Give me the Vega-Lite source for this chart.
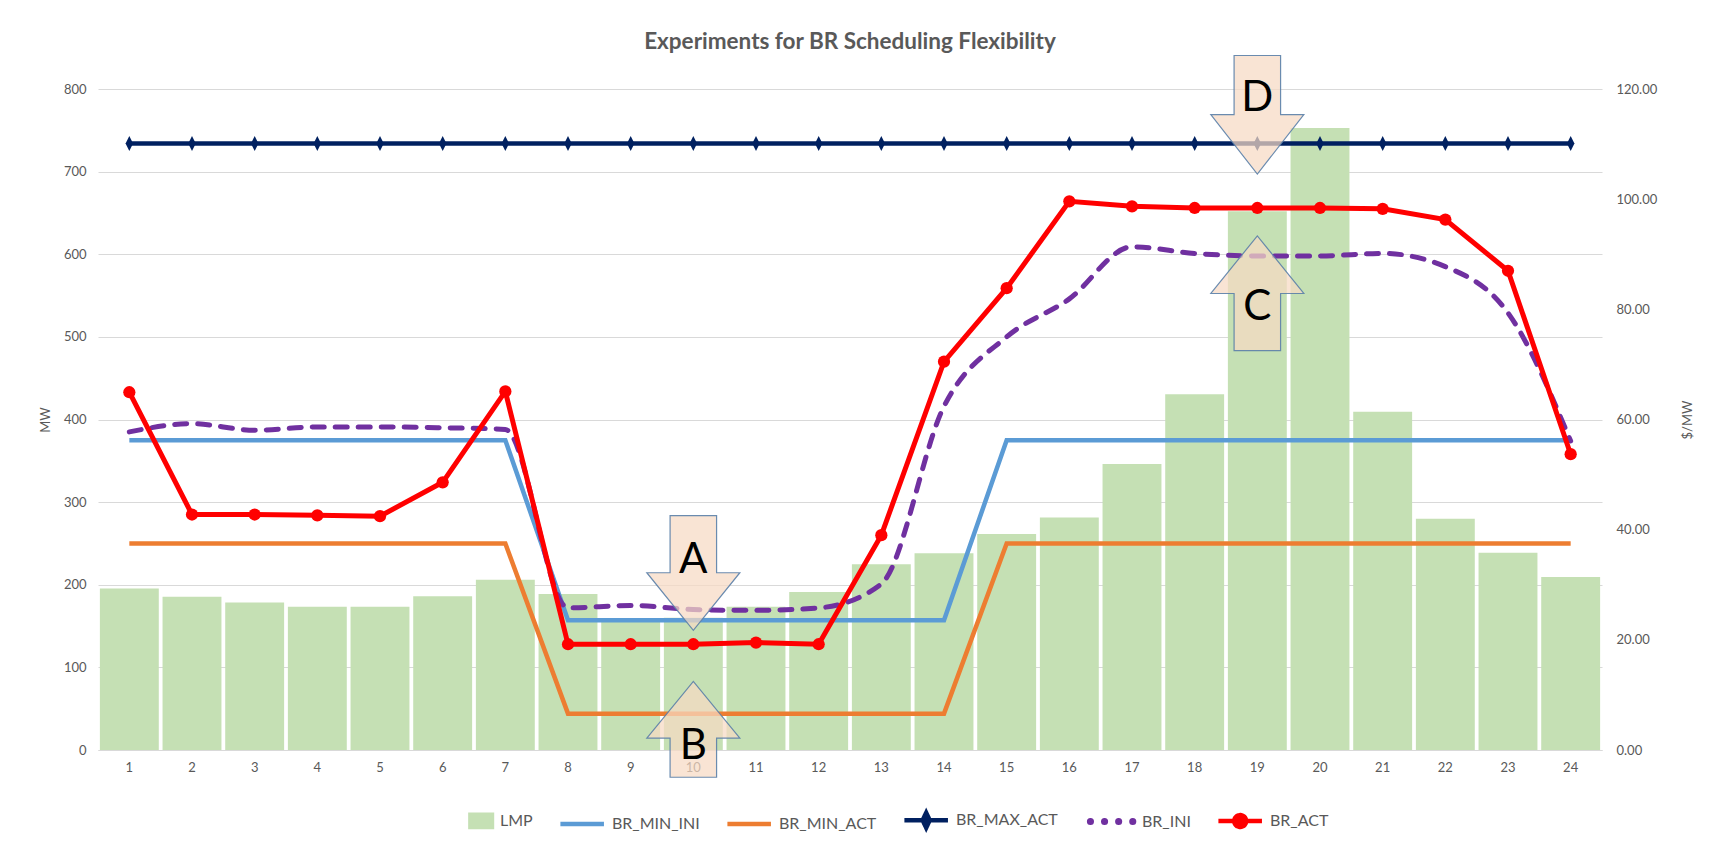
{
  "$schema": "https://vega.github.io/schema/vega-lite/v6.json",
  "width": 1504,
  "height": 661,
  "padding": {"left": 39, "top": 30, "right": 5, "bottom": 5},
  "background": "white",
  "config": {"view": {"stroke": null}, "font": "Lato"},
  "title": {"text": "Experiments for BR Scheduling Flexibility", "fontSize": 22.5, "font": "Lato", "fontWeight": "bold", "color": "#595959", "anchor": "middle", "offset": 0},
  "data": {"values": [
    {"hour": 1, "LMP": 29.3, "BR_MIN_INI": 375, "BR_MIN_ACT": 250, "BR_MAX_ACT": 734, "BR_INI": 385, "BR_ACT": 433},
    {"hour": 2, "LMP": 27.8, "BR_MIN_INI": 375, "BR_MIN_ACT": 250, "BR_MAX_ACT": 734, "BR_INI": 395, "BR_ACT": 285},
    {"hour": 3, "LMP": 26.8, "BR_MIN_INI": 375, "BR_MIN_ACT": 250, "BR_MAX_ACT": 734, "BR_INI": 387, "BR_ACT": 285},
    {"hour": 4, "LMP": 26.0, "BR_MIN_INI": 375, "BR_MIN_ACT": 250, "BR_MAX_ACT": 734, "BR_INI": 391, "BR_ACT": 284},
    {"hour": 5, "LMP": 26.0, "BR_MIN_INI": 375, "BR_MIN_ACT": 250, "BR_MAX_ACT": 734, "BR_INI": 391, "BR_ACT": 283},
    {"hour": 6, "LMP": 27.9, "BR_MIN_INI": 375, "BR_MIN_ACT": 250, "BR_MAX_ACT": 734, "BR_INI": 390, "BR_ACT": 324},
    {"hour": 7, "LMP": 30.9, "BR_MIN_INI": 375, "BR_MIN_ACT": 250, "BR_MAX_ACT": 734, "BR_INI": 388, "BR_ACT": 434},
    {"hour": 8, "LMP": 28.3, "BR_MIN_INI": 157, "BR_MIN_ACT": 44, "BR_MAX_ACT": 734, "BR_INI": 172, "BR_ACT": 128},
    {"hour": 9, "LMP": 23.5, "BR_MIN_INI": 157, "BR_MIN_ACT": 44, "BR_MAX_ACT": 734, "BR_INI": 175, "BR_ACT": 128},
    {"hour": 10, "LMP": 24.0, "BR_MIN_INI": 157, "BR_MIN_ACT": 44, "BR_MAX_ACT": 734, "BR_INI": 170, "BR_ACT": 128},
    {"hour": 11, "LMP": 26.0, "BR_MIN_INI": 157, "BR_MIN_ACT": 44, "BR_MAX_ACT": 734, "BR_INI": 169, "BR_ACT": 130},
    {"hour": 12, "LMP": 28.7, "BR_MIN_INI": 157, "BR_MIN_ACT": 44, "BR_MAX_ACT": 734, "BR_INI": 172, "BR_ACT": 128},
    {"hour": 13, "LMP": 33.7, "BR_MIN_INI": 157, "BR_MIN_ACT": 44, "BR_MAX_ACT": 734, "BR_INI": 201, "BR_ACT": 260},
    {"hour": 14, "LMP": 35.7, "BR_MIN_INI": 157, "BR_MIN_ACT": 44, "BR_MAX_ACT": 734, "BR_INI": 416, "BR_ACT": 470},
    {"hour": 15, "LMP": 39.2, "BR_MIN_INI": 375, "BR_MIN_ACT": 250, "BR_MAX_ACT": 734, "BR_INI": 500, "BR_ACT": 559},
    {"hour": 16, "LMP": 42.2, "BR_MIN_INI": 375, "BR_MIN_ACT": 250, "BR_MAX_ACT": 734, "BR_INI": 546, "BR_ACT": 664},
    {"hour": 17, "LMP": 51.9, "BR_MIN_INI": 375, "BR_MIN_ACT": 250, "BR_MAX_ACT": 734, "BR_INI": 609, "BR_ACT": 658},
    {"hour": 18, "LMP": 64.6, "BR_MIN_INI": 375, "BR_MIN_ACT": 250, "BR_MAX_ACT": 734, "BR_INI": 601, "BR_ACT": 656},
    {"hour": 19, "LMP": 97.8, "BR_MIN_INI": 375, "BR_MIN_ACT": 250, "BR_MAX_ACT": 734, "BR_INI": 598, "BR_ACT": 656},
    {"hour": 20, "LMP": 112.9, "BR_MIN_INI": 375, "BR_MIN_ACT": 250, "BR_MAX_ACT": 734, "BR_INI": 598, "BR_ACT": 656},
    {"hour": 21, "LMP": 61.4, "BR_MIN_INI": 375, "BR_MIN_ACT": 250, "BR_MAX_ACT": 734, "BR_INI": 601, "BR_ACT": 655},
    {"hour": 22, "LMP": 42.0, "BR_MIN_INI": 375, "BR_MIN_ACT": 250, "BR_MAX_ACT": 734, "BR_INI": 585, "BR_ACT": 642},
    {"hour": 23, "LMP": 35.8, "BR_MIN_INI": 375, "BR_MIN_ACT": 250, "BR_MAX_ACT": 734, "BR_INI": 529, "BR_ACT": 580},
    {"hour": 24, "LMP": 31.4, "BR_MIN_INI": 375, "BR_MIN_ACT": 250, "BR_MAX_ACT": 734, "BR_INI": 374, "BR_ACT": 358}
  ]},
  "encoding": {
    "x": {"field": "hour", "type": "ordinal", "scale": {"paddingInner": 0.06, "paddingOuter": 0.03},
      "axis": {"title": null, "labelAngle": 0, "ticks": false, "domain": true, "domainColor": "#D9D9D9", "labelColor": "#595959", "labelFontSize": 13, "labelFont": "Lato", "labelPadding": 11, "grid": false}}
  },
  "layer": [
    {
      "mark": {"type": "bar"},
      "encoding": {
        "y": {"field": "LMP", "type": "quantitative", "scale": {"domain": [0, 120], "nice": false},
          "axis": {"orient": "right", "values": [0, 20, 40, 60, 80, 100, 120], "format": ".2f", "grid": false, "domain": false, "ticks": false, "labelColor": "#595959", "labelFontSize": 13, "labelFont": "Lato", "labelPadding": 14, "title": "$/MW", "titleAngle": 270, "titleColor": "#595959", "titleFontSize": 13, "titleFont": "Lato", "titleFontWeight": "normal", "titlePadding": 38}},
        "color": {"datum": "LMP", "type": "nominal",
          "scale": {"domain": ["LMP", "BR_MIN_INI", "BR_MIN_ACT", "BR_MAX_ACT", "BR_INI", "BR_ACT"], "range": ["#C5E0B4", "#5B9BD5", "#ED7D31", "#002060", "#7030A0", "#FF0000"]},
          "legend": {"title": null, "orient": "none", "legendX": 382, "legendY": 723, "direction": "horizontal", "symbolSize": 1936, "labelFontSize": 16, "labelFont": "Lato", "labelColor": "#595959", "columnPadding": 18, "labelOffset": 4,
            "encode": {"symbols": {"update": {
              "shape": {"signal": "datum.value==='LMP' ? 'M -0.8,-0.28 L 0.18,-0.28 L 0.18,0.28 L -0.8,0.28 Z' : datum.value==='BR_MAX_ACT' ? 'M -1.8,0 L 0.18,0 M -0.81,-0.34 L -0.65,0 L -0.81,0.34 L -0.97,0 Z' : datum.value==='BR_ACT' ? 'M -1.8,0 L 0.18,0 M -0.54,0 A 0.27,0.27 0 1,1 -1.08,0 A 0.27,0.27 0 1,1 -0.54,0 Z' : 'M -1.8,0 L 0.18,0'"},
              "fill": {"signal": "indexof(['LMP','BR_MAX_ACT','BR_ACT'], datum.value) >= 0 ? scale('color', datum.value) : 'transparent'"},
              "stroke": {"signal": "datum.value==='LMP' ? 'transparent' : scale('color', datum.value)"},
              "strokeWidth": {"signal": "datum.value==='BR_INI' ? 7 : 4.5"},
              "strokeDash": {"signal": "datum.value==='BR_INI' ? [0.1, 14] : [1, 0]"},
              "strokeCap": {"signal": "datum.value==='BR_INI' ? 'round' : 'butt'"},
              "size": {"value": 1936},
              "opacity": {"value": 1}
            }}}}}
      }
    },
    {
      "layer": [
        {
          "mark": {"type": "line", "strokeWidth": 4.5},
          "encoding": {
            "y": {"field": "BR_MIN_INI", "type": "quantitative", "scale": {"domain": [0, 800], "nice": false},
              "axis": {"orient": "left", "values": [0, 100, 200, 300, 400, 500, 600, 700, 800], "grid": true, "gridColor": "#D9D9D9", "gridWidth": 1, "domain": false, "ticks": false, "labelColor": "#595959", "labelFontSize": 13, "labelFont": "Lato", "labelPadding": 12, "title": "MW", "titleColor": "#595959", "titleFontSize": 13, "titleFont": "Lato", "titleFontWeight": "normal", "titlePadding": 11}},
            "color": {"datum": "BR_MIN_INI", "type": "nominal"}
          }
        },
        {
          "mark": {"type": "line", "strokeWidth": 4.5},
          "encoding": {
            "y": {"field": "BR_MIN_ACT", "type": "quantitative", "title": "MW"},
            "color": {"datum": "BR_MIN_ACT", "type": "nominal"}
          }
        },
        {
          "mark": {"type": "line", "strokeWidth": 4.5, "point": {"shape": "M 0,-1.5 L 0.75,0 L 0,1.5 L -0.75,0 Z", "size": 100, "filled": true, "opacity": 1}},
          "encoding": {
            "y": {"field": "BR_MAX_ACT", "type": "quantitative", "title": "MW"},
            "color": {"datum": "BR_MAX_ACT", "type": "nominal"}
          }
        },
        {
          "mark": {"type": "line", "strokeWidth": 5, "strokeDash": [12, 11], "strokeCap": "round", "interpolate": "monotone"},
          "encoding": {
            "y": {"field": "BR_INI", "type": "quantitative", "title": "MW"},
            "color": {"datum": "BR_INI", "type": "nominal"}
          }
        },
        {
          "mark": {"type": "line", "strokeWidth": 5, "point": {"size": 150, "filled": true, "opacity": 1}},
          "encoding": {
            "y": {"field": "BR_ACT", "type": "quantitative", "title": "MW"},
            "color": {"datum": "BR_ACT", "type": "nominal"}
          }
        },
        {
          "data": {"values": [
            {"label": "A", "hour": 10, "mw": 232},
            {"label": "B", "hour": 10, "mw": 7},
            {"label": "C", "hour": 19, "mw": 539},
            {"label": "D", "hour": 19, "mw": 791}
          ]},
          "layer": [
            {
              "mark": {"type": "point", "filled": true, "fill": "#F6D9C3", "fillOpacity": 0.72, "stroke": "#5A7FA8", "strokeWidth": 1.2, "strokeOpacity": 0.9, "opacity": 1},
              "encoding": {
                "y": {"field": "mw", "type": "quantitative", "title": "MW"},
                "shape": {"field": "label", "type": "nominal", "legend": null,
                  "scale": {"domain": ["A", "B", "C", "D"], "range": [
                    "M -0.5,-0.92 L 0.5,-0.92 L 0.5,0.31 L 1,0.31 L 0,1.55 L -1,0.31 L -0.5,0.31 Z",
                    "M -0.5,0.71 L 0.5,0.71 L 0.5,-0.13 L 1,-0.13 L 0,-1.35 L -1,-0.13 L -0.5,-0.13 Z",
                    "M -0.5,0.99 L 0.5,0.99 L 0.5,-0.24 L 1,-0.24 L 0,-1.48 L -1,-0.24 L -0.5,-0.24 Z",
                    "M -0.5,-0.88 L 0.5,-0.88 L 0.5,0.39 L 1,0.39 L 0,1.67 L -1,0.39 L -0.5,0.39 Z"
                  ]}},
                "size": {"value": 8649}
              }
            },
            {
              "mark": {"type": "text", "fontSize": 42, "font": "Lato", "baseline": "middle", "align": "center", "color": "#000000", "dy": 2},
              "encoding": {
                "y": {"field": "mw", "type": "quantitative", "title": "MW"},
                "text": {"field": "label", "type": "nominal"}
              }
            }
          ]
        }
      ]
    }
  ],
  "resolve": {"scale": {"y": "independent"}}
}
